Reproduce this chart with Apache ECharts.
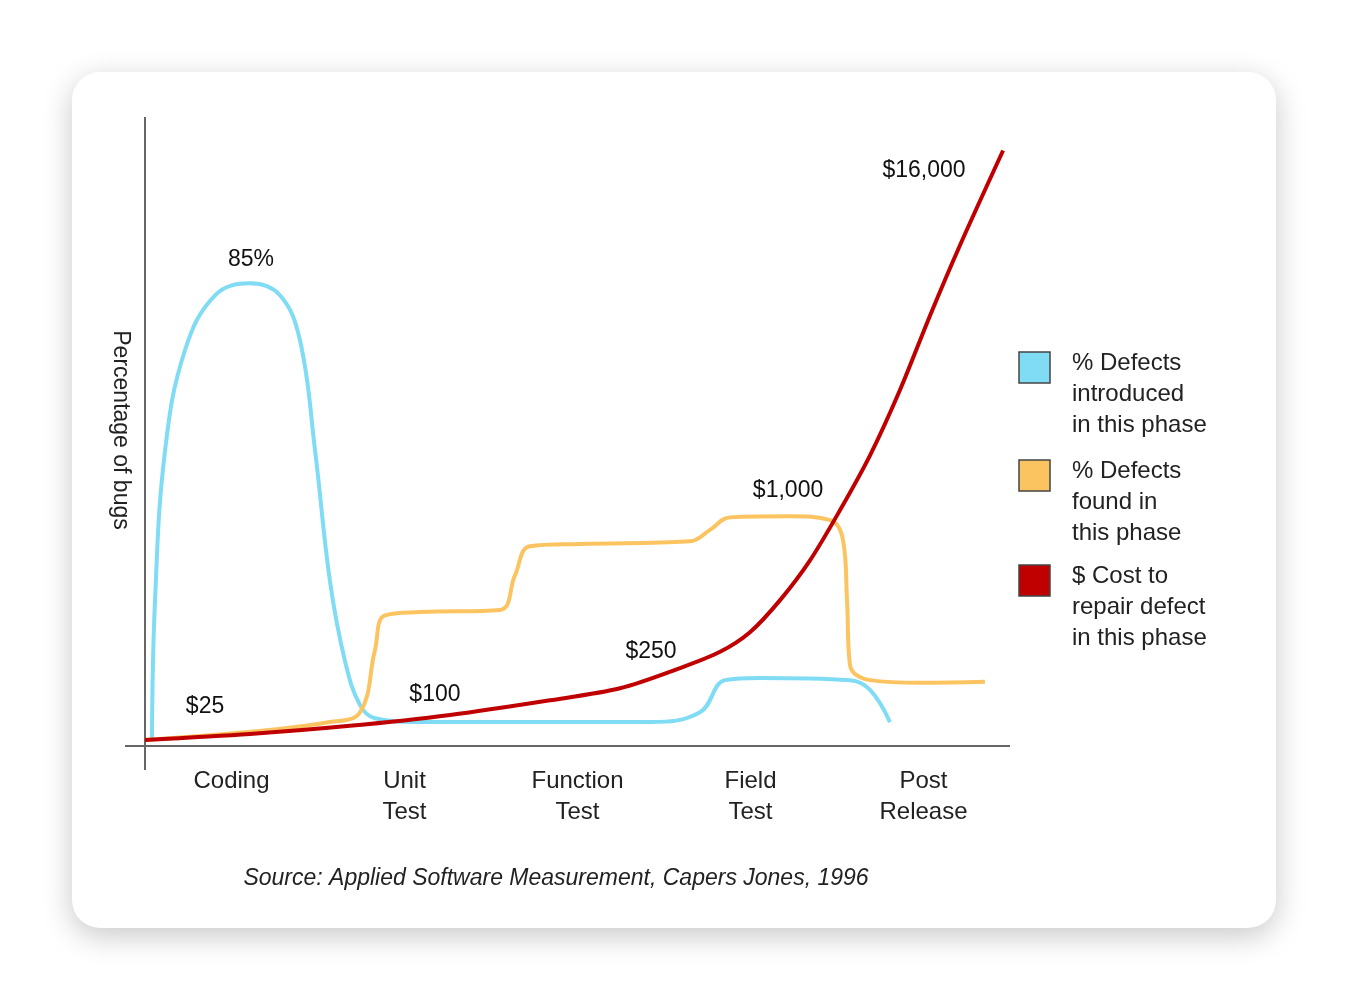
<!DOCTYPE html>
<html><head><meta charset="utf-8">
<script src="https://cdn.jsdelivr.net/npm/echarts@6/dist/echarts.min.js"></script>
<style>html,body{margin:0;padding:0;background:#fff}#c{width:1348px;height:1000px}</style>
</head><body><div id="c"></div>
<script>
const phases = ['Coding','Unit\nTest','Function\nTest','Field\nTest','Post\nRelease'];
const introduced = [[0.04,1.1],[0.058,26.8],[0.116,54.3],[0.231,72.7],[0.405,82.8],[0.607,85],[0.78,82.8],[0.896,74.5],[0.983,54.3],[1.069,30.3],[1.156,15.6],[1.243,7.5],[1.329,5.1],[1.59,4.4],[2.052,4.4],[2.919,4.4],[3.208,6.2],[3.353,12.1],[3.555,12.5],[4.075,12.1],[4.191,10.3],[4.306,4.4]];
const found = [[0,1.1],[0.607,2.6],[1.069,4.4],[1.243,6.2],[1.329,17.6],[1.387,24],[1.59,24.6],[2.052,25],[2.139,31.4],[2.225,36.7],[2.514,37.1],[3.15,37.6],[3.266,39.7],[3.382,42],[3.728,42.2],[3.96,41.5],[4.035,37.8],[4.058,26.8],[4.075,14.9],[4.191,12.1],[4.48,11.6],[4.855,11.8]];
const cost = [[0,1.1],[0.607,2.2],[1.185,3.7],[1.763,5.7],[2.341,8.4],[2.746,10.6],[3.092,14.3],[3.324,17.3],[3.497,20.9],[3.671,26.8],[3.844,34.1],[4.017,43.3],[4.191,53.4],[4.364,65.4],[4.538,79.1],[4.711,92.0],[4.96,109.4]];
const annotations = [[0.347,7.2,'$25'],[1.676,9.4,'$100'],[2.925,17.4,'$250'],[3.717,47.0,'$1,000'],[4.503,105.7,'$16,000'],[0.613,89.4,'85%']];
const legendItems = [['#7fdcf4','% Defects\nintroduced\nin this phase'],['#fcc461','% Defects\nfound in\nthis phase'],['#c00000','$ Cost to\nrepair defect\nin this phase']];
const F = 'Liberation Sans, Arial, sans-serif';
const chart = echarts.init(document.getElementById('c'));
const g = [
 {type:'rect',z:-10,shape:{x:72,y:72,width:1204,height:856,r:28},style:{fill:'#fff',shadowBlur:30,shadowColor:'rgba(0,0,0,0.22)',shadowOffsetY:8}},
 {type:'line',shape:{x1:145,y1:117,x2:145,y2:770},style:{stroke:'#666',lineWidth:2}},
 {type:'line',shape:{x1:125,y1:746,x2:1010,y2:746},style:{stroke:'#666',lineWidth:2}},
 {type:'text',x:120,y:430,rotation:-Math.PI/2,style:{text:'Percentage of bugs',font:'23px '+F,fill:'#222',align:'center',verticalAlign:'middle'}},
 {type:'text',x:556,y:879,style:{text:'Source: Applied Software Measurement, Capers Jones, 1996',font:'italic 23px '+F,fill:'#222',align:'center',verticalAlign:'middle'}}
];
const ly=[352,460,565];
legendItems.forEach((it,i)=>{
 g.push({type:'rect',shape:{x:1019,y:ly[i],width:31,height:31},style:{fill:it[0],stroke:'#444',lineWidth:1.5}});
 g.push({type:'text',x:1072,y:ly[i]-4,style:{text:it[1],font:'24px '+F,lineHeight:31,fill:'#222'}});
});
chart.setOption({
 animation:false,
 grid:{left:145,right:338,top:120,bottom:254},
 xAxis:{type:'value',min:0,max:5,interval:0.5,axisLine:{show:false},axisTick:{show:false},splitLine:{show:false},
  axisLabel:{margin:20,fontSize:24,fontFamily:F,color:'#222',lineHeight:31,formatter:v=>{const i=v-0.5;return Number.isInteger(i)?phases[i]:'';}}},
 yAxis:{type:'value',min:0,max:115,show:false},
 graphic:g,
 series:[
  {type:'line',data:introduced,smooth:0.4,showSymbol:false,lineStyle:{color:'#7fdcf4',width:4}},
  {type:'line',data:found,smooth:0.4,showSymbol:false,lineStyle:{color:'#fcc461',width:4}},
  {type:'line',data:cost,smooth:0.3,showSymbol:false,lineStyle:{color:'#c00000',width:4},z:5},
  {type:'scatter',data:annotations.map(a=>({value:[a[0],a[1]],name:a[2]})),symbolSize:1,itemStyle:{color:'rgba(0,0,0,0)'},
   label:{show:true,position:'inside',formatter:p=>p.name,fontSize:23,fontFamily:F,color:'#111',opacity:1,textBorderWidth:0}}
 ]
});
</script></body></html>
